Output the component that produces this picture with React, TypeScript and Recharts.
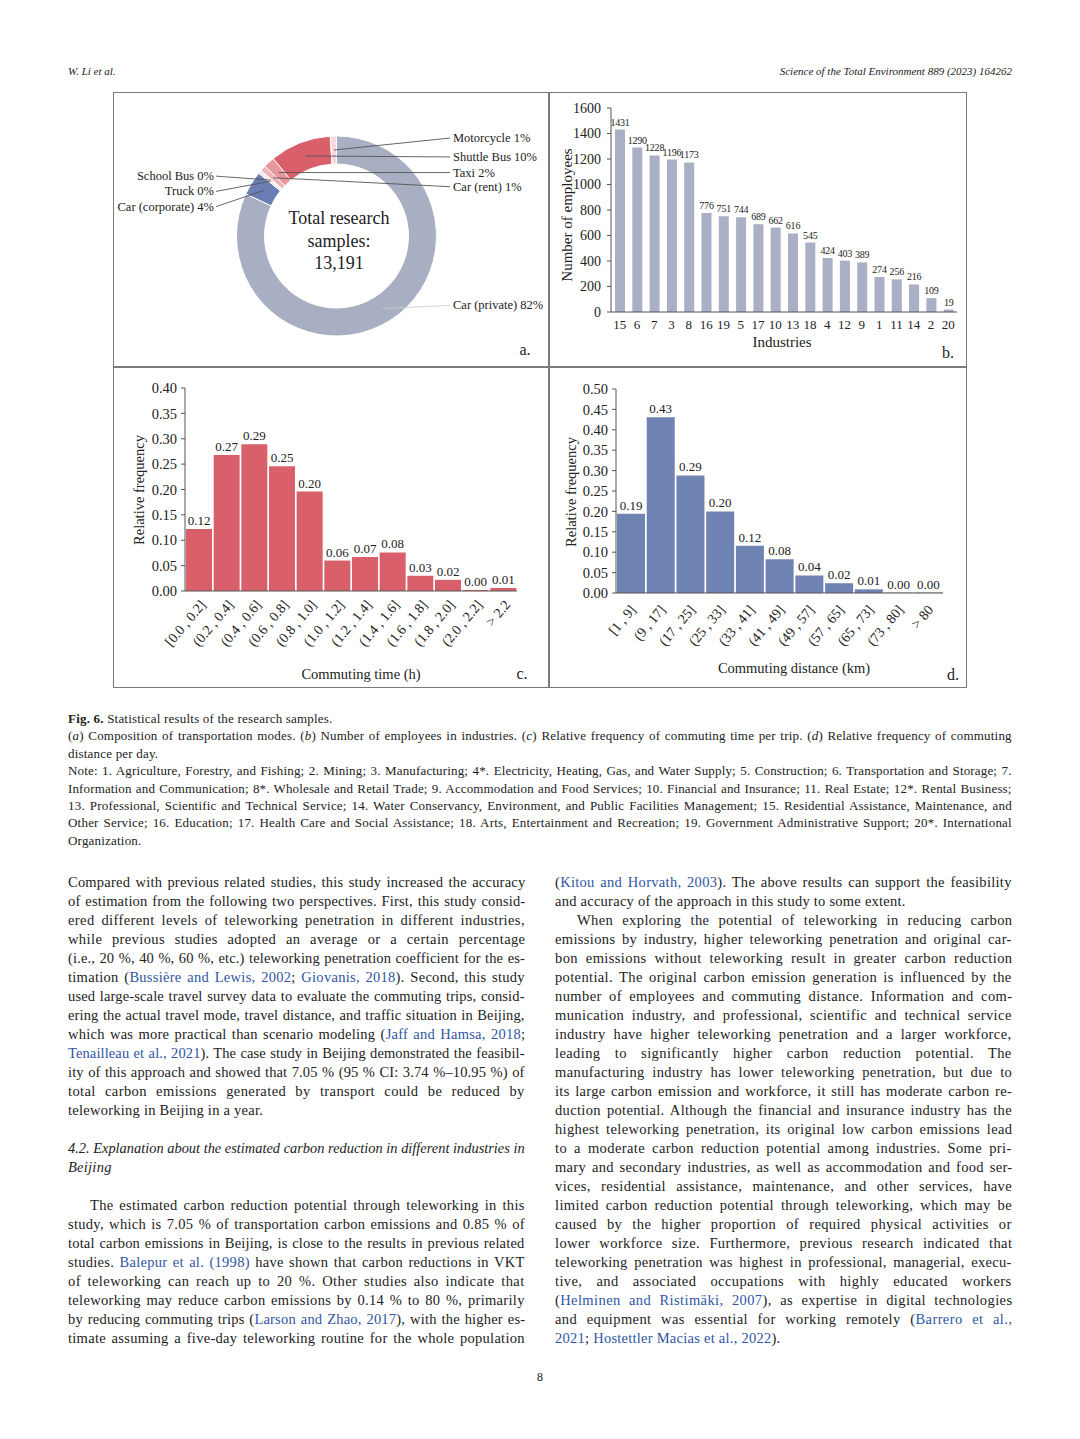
import React, { useLayoutEffect, useRef, useState } from 'react';
import { PieChart, Pie, Cell, BarChart, Bar, XAxis, YAxis, LabelList } from 'recharts';

const SERIF = '"Liberation Serif", "Times New Roman", serif';
const INK = '#222';
const LINK = '#2f55a4';

// ---------- Panel a: transportation modes ----------
const modeNames = ['Car (private)', 'Car (corporate)', 'Truck', 'School Bus', 'Car (rent)', 'Taxi', 'Shuttle Bus', 'Motorcycle'];
const modeShares = [81.9, 3.9, 0.3, 0.3, 0.9, 1.8, 9.9, 1.0];
const modeColors = ['#A8AFC3', '#6A7DB5', '#F3D2D4', '#F7E2E3', '#EFB3B7', '#E8979D', '#D9606A', '#F5D9DB'];
const totalLines = ['Total research', 'samples:', '13,191'];

// ---------- Panel b: employees by industry ----------
const industries = ['15', '6', '7', '3', '8', '16', '19', '5', '17', '10', '13', '18', '4', '12', '9', '1', '11', '14', '2', '20'];
const employees = [1431, 1290, 1228, 1196, 1173, 776, 751, 744, 689, 662, 616, 545, 424, 403, 389, 274, 256, 216, 109, 19];
const employeeTicks = [0, 200, 400, 600, 800, 1000, 1200, 1400, 1600];

// ---------- Panel c: commuting time ----------
const timeBins = ['[0.0 , 0.2]', '(0.2 , 0.4]', '(0.4 , 0.6]', '(0.6 , 0.8]', '(0.8 , 1.0]', '(1.0 , 1.2]', '(1.2 , 1.4]', '(1.4 , 1.6]', '(1.6 , 1.8]', '(1.8 , 2.0]', '(2.0 , 2.2]', '> 2.2'];
const timeFreq = [0.122, 0.268, 0.289, 0.246, 0.196, 0.06, 0.067, 0.076, 0.03, 0.022, 0.002, 0.006];
const timeTicks = [0, 0.05, 0.1, 0.15, 0.2, 0.25, 0.3, 0.35, 0.4];

// ---------- Panel d: commuting distance ----------
const distBins = ['[1 , 9]', '(9 , 17]', '(17 , 25]', '(25 , 33]', '(33 , 41]', '(41 , 49]', '(49 , 57]', '(57 , 65]', '(65 , 73]', '(73 , 80]', '> 80'];
const distFreq = [0.194, 0.431, 0.288, 0.2, 0.116, 0.083, 0.043, 0.024, 0.009, 0.001, 0.001];
const distTicks = [0, 0.05, 0.1, 0.15, 0.2, 0.25, 0.3, 0.35, 0.4, 0.45, 0.5];

// ---------- Text ----------
const headerLeft = 'W. Li et al.';
const headerRight = 'Science of the Total Environment 889 (2023) 164262';
const captionLines = [
  '«Fig. 6.» Statistical results of the research samples.',
  '(‹a›) Composition of transportation modes. (‹b›) Number of employees in industries. (‹c›) Relative frequency of commuting time per trip. (‹d›) Relative frequency of commuting',
  'distance per day.',
  'Note: 1. Agriculture, Forestry, and Fishing; 2. Mining; 3. Manufacturing; 4*. Electricity, Heating, Gas, and Water Supply; 5. Construction; 6. Transportation and Storage; 7.',
  'Information and Communication; 8*. Wholesale and Retail Trade; 9. Accommodation and Food Services; 10. Financial and Insurance; 11. Real Estate; 12*. Rental Business;',
  '13. Professional, Scientific and Technical Service; 14. Water Conservancy, Environment, and Public Facilities Management; 15. Residential Assistance, Maintenance, and',
  'Other Service; 16. Education; 17. Health Care and Social Assistance; 18. Arts, Entertainment and Recreation; 19. Government Administrative Support; 20*. International',
  'Organization.',
];
const captionJustify = [false, true, false, true, true, true, true, false];

const leftCol = [
  'Compared with previous related studies, this study increased the accuracy',
  'of estimation from the following two perspectives. First, this study consid-',
  'ered different levels of teleworking penetration in different industries,',
  'while previous studies adopted an average or a certain percentage',
  '(i.e., 20 %, 40 %, 60 %, etc.) teleworking penetration coefficient for the es-',
  'timation ({Bussière and Lewis, 2002}; {Giovanis, 2018}). Second, this study',
  'used large-scale travel survey data to evaluate the commuting trips, consid-',
  'ering the actual travel mode, travel distance, and traffic situation in Beijing,',
  'which was more practical than scenario modeling ({Jaff and Hamsa, 2018};',
  '{Tenailleau et al., 2021}). The case study in Beijing demonstrated the feasibil-',
  'ity of this approach and showed that 7.05 % (95 % CI: 3.74 %–10.95 %) of',
  'total carbon emissions generated by transport could be reduced by',
  'teleworking in Beijing in a year.',
  '',
  '‹4.2. Explanation about the estimated carbon reduction in different industries in›',
  '‹Beijing›',
  '',
  'The estimated carbon reduction potential through teleworking in this',
  'study, which is 7.05 % of transportation carbon emissions and 0.85 % of',
  'total carbon emissions in Beijing, is close to the results in previous related',
  'studies. {Balepur et al. (1998)} have shown that carbon reductions in VKT',
  'of teleworking can reach up to 20 %. Other studies also indicate that',
  'teleworking may reduce carbon emissions by 0.14 % to 80 %, primarily',
  'by reducing commuting trips ({Larson and Zhao, 2017}), with the higher es-',
  'timate assuming a five-day teleworking routine for the whole population',
];
const leftNoJustify = [12, 15];
const leftIndent = [17];

const rightCol = [
  '({Kitou and Horvath, 2003}). The above results can support the feasibility',
  'and accuracy of the approach in this study to some extent.',
  'When exploring the potential of teleworking in reducing carbon',
  'emissions by industry, higher teleworking penetration and original car-',
  'bon emissions without teleworking result in greater carbon reduction',
  'potential. The original carbon emission generation is influenced by the',
  'number of employees and commuting distance. Information and com-',
  'munication industry, and professional, scientific and technical service',
  'industry have higher teleworking penetration and a larger workforce,',
  'leading to significantly higher carbon reduction potential. The',
  'manufacturing industry has lower teleworking penetration, but due to',
  'its large carbon emission and workforce, it still has moderate carbon re-',
  'duction potential. Although the financial and insurance industry has the',
  'highest teleworking penetration, its original low carbon emissions lead',
  'to a moderate carbon reduction potential among industries. Some pri-',
  'mary and secondary industries, as well as accommodation and food ser-',
  'vices, residential assistance, maintenance, and other services, have',
  'limited carbon reduction potential through teleworking, which may be',
  'caused by the higher proportion of required physical activities or',
  'lower workforce size. Furthermore, previous research indicated that',
  'teleworking penetration was highest in professional, managerial, execu-',
  'tive, and associated occupations with highly educated workers',
  '({Helminen and Ristimäki, 2007}), as expertise in digital technologies',
  'and equipment was essential for working remotely ({Barrero et al.,}',
  '{2021}; {Hostettler Macias et al., 2022}).',
];
const rightNoJustify = [1, 24];
const rightIndent = [2];

// ---------- helpers ----------
function renderMarkup(s: string) {
  const parts = s.split(/(\{[^}]*\}|‹[^›]*›|«[^»]*»)/);
  return parts.map((p, i) => {
    if (p.startsWith('{')) return <span key={i} style={{ color: LINK }}>{p.slice(1, -1)}</span>;
    if (p.startsWith('‹')) return <i key={i}>{p.slice(1, -1)}</i>;
    if (p.startsWith('«')) return <b key={i}>{p.slice(1, -1)}</b>;
    return <React.Fragment key={i}>{p}</React.Fragment>;
  });
}

function JLine({ x, top, w, justify, size, lh, text, maxLs, baseLs, style }: any) {
  const ref = useRef<HTMLSpanElement>(null);
  const [adj, setAdj] = useState({ ws: 0, ls: 0, sx: 1 });
  useLayoutEffect(() => {
    const el = ref.current;
    if (!el) return;
    const natural = el.offsetWidth;
    const content = el.textContent || '';
    const chars = content.length;
    const spaces = (content.match(/ /g) || []).length;
    const extra = w - natural;
    if (extra < 0) {
      setAdj({ ws: 0, ls: 0, sx: w / natural });
    } else if (justify && spaces > 0) {
      const ls = Math.min(maxLs, (extra * 0.55) / chars);
      setAdj({ ws: (extra - ls * chars) / spaces, ls, sx: 1 });
    } else {
      const ls = Math.min(baseLs, extra / Math.max(chars, 1));
      setAdj({ ws: 0, ls, sx: 1 });
    }
  }, []);
  return (
    <div style={{ position: 'absolute', left: x, top, whiteSpace: 'nowrap', fontSize: size, lineHeight: `${lh}px`, ...style }}>
      <span
        ref={ref}
        style={{
          display: 'inline-block', wordSpacing: adj.ws, letterSpacing: adj.ls,
          transform: `scaleX(${adj.sx})`, transformOrigin: 'left center',
        }}
      >
        {renderMarkup(text)}
      </span>
    </div>
  );
}

function CText({ x, y, size, children, rotate = false, style }: any) {
  return (
    <div
      style={{
        position: 'absolute', left: x, top: y, whiteSpace: 'nowrap', fontSize: size, lineHeight: 1,
        transform: `translate(-50%, -50%)${rotate ? ' rotate(-90deg)' : ''}`, ...style,
      }}
    >
      {children}
    </div>
  );
}

const LEFT_SIDE = new Set(['Car (corporate)', 'Truck', 'School Bus']);
const LABEL_SHIFT: Record<string, number> = {
  'Motorcycle': -12, 'Shuttle Bus': 1, 'Taxi': 0, 'Car (rent)': 9,
  'School Bus': -4, 'Truck': 10, 'Car (corporate)': 16, 'Car (private)': -3,
};

const renderModeLabel = (p: any) => {
  const RAD = Math.PI / 180;
  const r = (p.innerRadius + p.outerRadius) / 2;
  const x0 = p.cx + r * Math.cos(-p.midAngle * RAD);
  const y0 = p.cy + r * Math.sin(-p.midAngle * RAD);
  const left = LEFT_SIDE.has(p.name);
  const yl = y0 + (LABEL_SHIFT[p.name] || 0);
  const xEnd = left ? p.cx - 120.5 : p.cx + 113.5;
  const lineColor = p.name === 'Car (private)' ? '#cfcfcf' : '#555';
  return (
    <g key={`lab-${p.name}`}>
      <line x1={x0} y1={y0} x2={xEnd} y2={yl} stroke={lineColor} strokeWidth={0.9} />
      <text
        x={left ? xEnd - 2 : xEnd + 3}
        y={yl}
        textAnchor={left ? 'end' : 'start'}
        dominantBaseline="central"
        fontSize={12.5}
        fontFamily={SERIF}
        fill={INK}
      >
        {`${p.name} ${Math.round(p.value)}%`}
      </text>
    </g>
  );
};

const makeRotTick = (dx: number, dy: number) => (props: any) => {
  const { x, y, payload } = props;
  return (
    <g transform={`translate(${x + dx},${y + dy})`}>
      <text textAnchor="end" transform="rotate(-50)" dy="0.35em" fontSize={14} fontFamily={SERIF} fill={INK}>
        {payload.value}
      </text>
    </g>
  );
};

const fmt2 = (v: any) => Number(v).toFixed(2);

export default function App() {
  const modeData = modeNames.map((m, i) => ({ mode: m, share: modeShares[i] }));
  const industryData = industries.map((k, i) => ({ industry: k, employees: employees[i] }));
  const timeData = timeBins.map((b, i) => ({ bin: b, freq: timeFreq[i] }));
  const distData = distBins.map((b, i) => ({ bin: b, freq: distFreq[i] }));

  const axisLine = { stroke: '#555', strokeWidth: 1 };
  const frame = '#7a7a7a';

  return (
    <div style={{ position: 'absolute', left: 0, top: 0, width: 1080, height: 1439, background: '#fff', fontFamily: SERIF, color: INK, overflow: 'hidden' }}>
      {/* header */}
      <div style={{ position: 'absolute', left: 68, top: 64, fontSize: 11, fontStyle: 'italic', lineHeight: '14px' }}>{headerLeft}</div>
      <div style={{ position: 'absolute', right: 1080 - 1012, top: 64, fontSize: 11, fontStyle: 'italic', lineHeight: '14px' }}>{headerRight}</div>

      {/* figure frame */}
      <div style={{ position: 'absolute', left: 113, top: 92, width: 854, height: 596, border: `1.5px solid ${frame}`, boxSizing: 'border-box' }} />
      <div style={{ position: 'absolute', left: 548, top: 92, width: 1.5, height: 596, background: frame }} />
      <div style={{ position: 'absolute', left: 113, top: 366, width: 854, height: 1.5, background: frame }} />

      {/* Panel a */}
      <div style={{ position: 'absolute', left: 113, top: 92 }}>
        <PieChart width={436} height={275} margin={{ top: 0, right: 0, bottom: 0, left: 0 }}>
          <Pie
            data={modeData}
            dataKey="share"
            nameKey="mode"
            cx={223.5}
            cy={144}
            innerRadius={72}
            outerRadius={100}
            startAngle={90}
            endAngle={-270}
            stroke="#fff"
            strokeWidth={1}
            label={renderModeLabel}
            labelLine={false}
            isAnimationActive={false}
          >
            {modeData.map((d, i) => (
              <Cell key={d.mode} fill={modeColors[i]} />
            ))}
          </Pie>
        </PieChart>
      </div>
      <CText x={339} y={218} size={18}>{totalLines[0]}</CText>
      <CText x={339} y={241} size={18}>{totalLines[1]}</CText>
      <CText x={339} y={263} size={18}>{totalLines[2]}</CText>
      <CText x={525} y={350} size={16}>a.</CText>

      {/* Panel b */}
      <div style={{ position: 'absolute', left: 549, top: 92 }}>
        <BarChart width={418} height={275} data={industryData} margin={{ top: 16, right: 10, left: 0, bottom: 35 }}>
          <XAxis dataKey="industry" interval={0} height={20} tickLine={false} axisLine={axisLine} tick={{ fontSize: 13, fill: INK, fontFamily: SERIF }} />
          <YAxis
            domain={[0, 1600]}
            ticks={employeeTicks}
            interval={0}
            width={62}
            tickSize={4}
            tickMargin={6}
            axisLine={axisLine}
            tickLine={axisLine}
            tick={{ fontSize: 14, fill: INK, fontFamily: SERIF }}
          />
          <Bar dataKey="employees" fill="#A9AFC4" barSize={10} isAnimationActive={false}>
            <LabelList dataKey="employees" position="top" offset={4} style={{ fontSize: 10, fill: INK, fontFamily: SERIF, letterSpacing: -0.2 }} />
          </Bar>
        </BarChart>
      </div>
      <CText x={567} y={215} size={15} rotate>Number of employees</CText>
      <CText x={782} y={342} size={15}>Industries</CText>
      <CText x={948} y={353} size={16}>b.</CText>

      {/* Panel c */}
      <div style={{ position: 'absolute', left: 113, top: 367 }}>
        <BarChart width={436} height={321} data={timeData} margin={{ top: 21, right: 32, left: 0, bottom: 27 }} barCategoryGap={1}>
          <XAxis dataKey="bin" interval={0} height={70} tickLine={false} tickSize={0} tickMargin={0} axisLine={axisLine} tick={makeRotTick(4, 11)} />
          <YAxis
            domain={[0, 0.4]}
            ticks={timeTicks}
            interval={0}
            width={72}
            tickSize={4}
            tickMargin={4}
            tickFormatter={fmt2}
            axisLine={axisLine}
            tickLine={axisLine}
            tick={{ fontSize: 14.5, fill: INK, fontFamily: SERIF }}
          />
          <Bar dataKey="freq" fill="#D9606A" isAnimationActive={false}>
            <LabelList dataKey="freq" position="top" offset={4} formatter={fmt2} style={{ fontSize: 13, fill: INK, fontFamily: SERIF }} />
          </Bar>
        </BarChart>
      </div>
      <CText x={139} y={490} size={14.5} rotate>Relative frequency</CText>
      <CText x={361} y={674} size={14.5}>Commuting time (h)</CText>
      <CText x={522} y={674} size={16}>c.</CText>

      {/* Panel d */}
      <div style={{ position: 'absolute', left: 549, top: 367 }}>
        <BarChart width={418} height={321} data={distData} margin={{ top: 22, right: 24, left: 0, bottom: 25 }} barCategoryGap={1}>
          <XAxis dataKey="bin" interval={0} height={70} tickLine={false} tickSize={0} tickMargin={0} axisLine={axisLine} tick={makeRotTick(2, 14)} />
          <YAxis
            domain={[0, 0.5]}
            ticks={distTicks}
            interval={0}
            width={67}
            tickSize={4}
            tickMargin={4}
            tickFormatter={fmt2}
            axisLine={axisLine}
            tickLine={axisLine}
            tick={{ fontSize: 14.5, fill: INK, fontFamily: SERIF }}
          />
          <Bar dataKey="freq" fill="#6F83B2" isAnimationActive={false}>
            <LabelList dataKey="freq" position="top" offset={4} formatter={fmt2} style={{ fontSize: 13, fill: INK, fontFamily: SERIF }} />
          </Bar>
        </BarChart>
      </div>
      <CText x={571} y={492} size={14.5} rotate>Relative frequency</CText>
      <CText x={794} y={668} size={14.5}>Commuting distance (km)</CText>
      <CText x={953} y={675} size={16}>d.</CText>

      {/* caption */}
      {captionLines.map((t, i) => (
        <JLine key={`c${i}`} x={68} top={710 + i * 17.4} w={944} justify={captionJustify[i]} size={13} lh={17} maxLs={0.35} baseLs={0.2} text={t} />
      ))}

      {/* body columns */}
      {leftCol.map((t, i) =>
        t ? (
          <JLine
            key={`l${i}`}
            x={68 + (leftIndent.includes(i) ? 22 : 0)}
            top={873 + i * 19}
            w={457 - (leftIndent.includes(i) ? 22 : 0)}
            justify={!leftNoJustify.includes(i)}
            size={14.5}
            lh={19}
            maxLs={0.4}
            baseLs={0.25}
            text={t}
          />
        ) : null
      )}
      {rightCol.map((t, i) => (
        <JLine
          key={`r${i}`}
          x={555 + (rightIndent.includes(i) ? 22 : 0)}
          top={873 + i * 19}
          w={457 - (rightIndent.includes(i) ? 22 : 0)}
          justify={!rightNoJustify.includes(i)}
          size={14.5}
          lh={19}
          maxLs={0.4}
          baseLs={0.25}
          text={t}
        />
      ))}

      <div style={{ position: 'absolute', left: 0, width: 1080, top: 1370, textAlign: 'center', fontSize: 12, lineHeight: '14px' }}>8</div>
    </div>
  );
}
